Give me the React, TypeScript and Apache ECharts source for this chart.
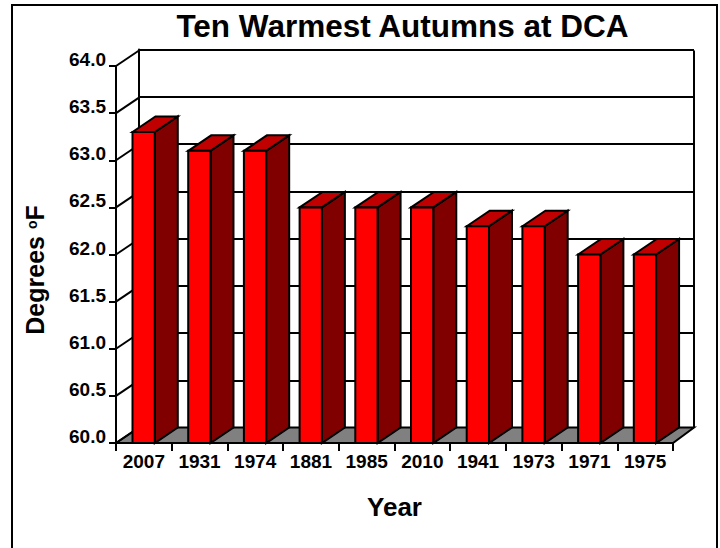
import React, { useEffect, useRef } from "react";
import * as echarts from "echarts";

const years = ["2007", "1931", "1974", "1881", "1985", "2010", "1941", "1973", "1971", "1975"];
const temps = [63.3, 63.1, 63.1, 62.5, 62.5, 62.5, 62.3, 62.3, 62.0, 62.0];
const yTicks = [60, 60.5, 61, 61.5, 62, 62.5, 63, 63.5, 64];
const FONT = '"Liberation Sans", Arial, sans-serif';
const DX = 23;
const DY = -15.5;

export default function App() {
  const ref = useRef<HTMLDivElement>(null);
  useEffect(() => {
    const chart = echarts.init(ref.current!, undefined, { renderer: "svg" });
    const line = (x1: number, y1: number, x2: number, y2: number, w = 2) => ({
      type: "line",
      shape: { x1, y1, x2, y2 },
      style: { stroke: "#000", lineWidth: w },
    });
    chart.setOption({
      animation: false,
      backgroundColor: "#fff",
      title: {
        text: "Ten Warmest Autumns at DCA",
        left: 397.5,
        top: 5,
        textAlign: "center",
        textStyle: { fontFamily: FONT, fontWeight: "bold", fontSize: 31.5, color: "#000" },
      },
      graphic: [
        { type: "rect", shape: { x: 12, y: 5, width: 705, height: 560 }, style: { fill: "none", stroke: "#000", lineWidth: 2 }, silent: true },
        {
          type: "text", x: 34.5, y: 270, rotation: Math.PI / 2, style: {
            text: "Degrees {s|o}F",
            font: `bold 25px ${FONT}`,
            fill: "#000",
            align: "center",
            verticalAlign: "middle",
            rich: { s: { fontFamily: FONT, fontWeight: "bold", fontSize: 14, padding: [0, 0, 6, 0] } },
          } as any,
        },
      ],
      grid: [
        { left: 116, right: 47, top: 66, bottom: 105 },
        { left: 139, right: 26, top: 49.5, bottom: 120.5 },
      ],
      xAxis: [
        {
          gridIndex: 0, type: "category", data: years, boundaryGap: true,
          axisLine: { lineStyle: { color: "#000", width: 2 } },
          axisTick: { show: true, length: 8, alignWithLabel: false, lineStyle: { color: "#000", width: 2 } },
          axisLabel: { interval: 0, margin: 9, color: "#000", fontFamily: FONT, fontWeight: "bold", fontSize: 19 },
          name: "Year", nameLocation: "middle", nameGap: 51,
          nameTextStyle: { fontFamily: FONT, fontWeight: "bold", fontSize: 26, color: "#000" },
          z: 20,
        },
        {
          gridIndex: 1, type: "category", data: years, boundaryGap: true,
          axisLine: { show: false }, axisTick: { show: false }, axisLabel: { show: false },
        },
      ],
      yAxis: [
        {
          gridIndex: 0, type: "value", min: 60, max: 64, interval: 0.5,
          axisLine: { show: true, lineStyle: { color: "#000", width: 2 } },
          axisTick: { show: true, length: 7, lineStyle: { color: "#000", width: 2 } },
          axisLabel: { margin: 10, color: "#000", fontFamily: FONT, fontWeight: "bold", fontSize: 19, verticalAlign: "bottom", lineHeight: 13, formatter: (v: number) => v.toFixed(1) },
          splitLine: { show: false },
          z: 20,
        },
        {
          gridIndex: 1, type: "value", min: 60, max: 64, interval: 0.5,
          axisLine: { show: true, lineStyle: { color: "#000", width: 2 } },
          axisTick: { show: false }, axisLabel: { show: false },
          splitLine: { show: true, lineStyle: { color: "#000", width: 2 } },
        },
      ],
      series: [
        {
          type: "custom", xAxisIndex: 0, yAxisIndex: 0, data: yTicks, z: 3, silent: true,
          renderItem: (params: any, api: any) => {
            const v = api.value(0);
            const [, y] = api.coord([0, v]);
            const cs = params.coordSys;
            const x = cs.x;
            const right = cs.x + cs.width;
            const children: any[] = [line(x, y, x + DX, y + DY)];
            if (params.dataIndex === 0) {
              children.unshift({
                type: "polygon",
                shape: { points: [[x, y], [x + DX, y + DY], [right + DX - 2, y + DY], [right, y]] },
                style: { fill: "#808080", stroke: "#000", lineWidth: 2 },
              });
              children.push(line(right + DX - 2, y + DY, right + DX - 2, cs.y + DY, 2));
            }
            return { type: "group", children };
          },
          encode: { y: 0 },
        },
        {
          type: "custom", xAxisIndex: 0, yAxisIndex: 0, z: 5, silent: true,
          data: temps.map((t, i) => [i, t]),
          encode: { x: 0, y: 1 },
          renderItem: (_: any, api: any) => {
            const i = api.value(0);
            const [cx, top] = api.coord([i, api.value(1)]);
            const [, base] = api.coord([i, 60]);
            const band = api.size([1, 0])[0];
            const w = band * 0.4;
            const x = cx - band / 2 + 16.5;
            const x2 = x + w;
            const st = (fill: string) => ({ fill, stroke: "#000", lineWidth: 2, lineJoin: "miter" });
            return {
              type: "group",
              children: [
                { type: "polygon", shape: { points: [[x2, top], [x2 + DX, top + DY], [x2 + DX, base + DY], [x2, base]] }, style: st("#800000") },
                { type: "polygon", shape: { points: [[x, top], [x + DX, top + DY], [x2 + DX, top + DY], [x2, top]] }, style: st("#c00000") },
                { type: "rect", shape: { x, y: top, width: x2 - x, height: base - top }, style: st("#ff0000") },
              ],
            };
          },
        },
      ],
    });
    return () => chart.dispose();
  }, []);
  return <div ref={ref} style={{ position: "absolute", left: 0, top: 0, width: 720, height: 548 }} />;
}
